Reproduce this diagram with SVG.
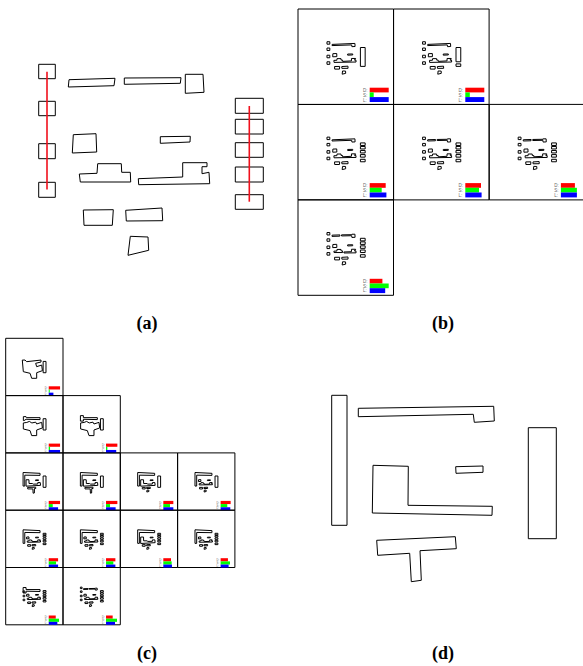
<svg xmlns="http://www.w3.org/2000/svg" width="583" height="666" viewBox="0 0 583 666">
<style>
.p{fill:none;stroke:#000;vector-effect:non-scaling-stroke}
.red{fill:#f00}.grn{fill:#0f0}.blu{fill:#00f}
.l{font-family:"Liberation Sans",Arial,sans-serif;font-size:4.5px;fill:#666}
.cap{font-family:"Liberation Serif","Times New Roman",serif;font-size:18px;font-weight:bold;fill:#000;text-anchor:middle}
.seg{stroke:#f0101c;stroke-width:1.6;fill:none}
.m .p{stroke-width:1.2}
.f{stroke-width:1}
</style>
<defs>
<rect id="s1" class="p" x="38.7" y="64.3" width="16.6" height="14.4"/>
<rect id="s2" class="p" x="38.7" y="101.3" width="16.6" height="14.4"/>
<rect id="s3" class="p" x="38.7" y="143.7" width="16.6" height="15"/>
<rect id="s4" class="p" x="38.7" y="182.3" width="16.6" height="15"/>
<rect id="r1" class="p" x="235.3" y="98.3" width="28" height="15"/>
<rect id="r2" class="p" x="235.3" y="119.3" width="28" height="14.7"/>
<rect id="r3" class="p" x="235.3" y="142.7" width="28" height="14.6"/>
<rect id="r4" class="p" x="235.3" y="167" width="28" height="15"/>
<rect id="r5" class="p" x="235.3" y="194.7" width="28" height="14.6"/>
<polygon id="A" class="p" points="69,79.7 115,78.3 114,85.7 68.3,87"/>
<polygon id="B" class="p" points="124.3,78 181,77.7 180.3,83.3 124.3,84.3"/>
<polygon id="C" class="p" points="185.3,74.3 203,74.3 204,92.3 185.3,93.3"/>
<polygon id="D" class="p" points="73.3,134.7 96,133.7 96.7,152 72.3,153"/>
<polygon id="E" class="p" points="160.3,136.7 190.3,136.3 190,142 160.3,143.3"/>
<polygon id="F" class="p" points="79.3,174 97,173.3 97.7,163.7 121.3,163.7 121.7,172.3 130.3,172.3 130.7,182 80.3,182"/>
<polygon id="G" class="p" points="138.3,178.7 182.7,177 182.7,162.7 207,162.7 207,166.7 202,166.7 202,173.7 209,172.3 209.7,183.7 138.7,184.7"/>
<polygon id="H" class="p" points="83.3,210 113.3,209.7 112.3,225.3 84,225.3"/>
<polygon id="I" class="p" points="125.7,210.3 162,208 162.7,220.7 126.3,221"/>
<polygon id="J" class="p" points="130.3,236.3 148,237 148.7,250.3 128,255.3"/>
<g id="L4"><use href="#s1"/><use href="#s2"/><use href="#s3"/><use href="#s4"/></g>
<g id="R5"><use href="#r1"/><use href="#r2"/><use href="#r3"/><use href="#r4"/><use href="#r5"/></g>
<g id="HIJ"><use href="#H"/><use href="#I"/><use href="#J"/></g>
<rect id="Rbig" class="p" x="235.3" y="98.3" width="28" height="111"/>
<rect id="Rshort" class="p" x="235.3" y="98.3" width="28" height="84"/>
<polygon id="TopM" class="p" points="69,80 203,74.3 204,92.3 185.3,93.3 184,83 68.5,87"/>
<polygon id="BC" class="p" points="124.3,78 185,77 185.3,74.3 203,74.3 204,92.3 185.3,93.3 184,83 124.3,84.3"/>
<polygon id="FG" class="p" points="79.3,174 97,173.3 97.7,163.7 121.3,163.7 121.7,172.3 130.3,172.3 131,180 182.7,177 182.7,162.7 207,162.7 207,166.7 202,166.7 202,173.7 209,172.3 209.7,183.7 80.3,186"/>
<polygon id="Blob" class="p" points="31,85 57.5,85 74,101 214.5,85 214.5,104 162,117 172,150 221,134 228,189 172,209 172,264 123,264 107,215 41,199"/>
<polygon id="Hammer" class="p" points="41.5,78 67.6,78 71,88 205,88 205,107 68,104 48,117 41.5,117"/>
<polygon id="Hammer2" class="p" points="39,68 68,68 68,88 205,88 205,107 68,104 68,122 39,122"/>
<polygon id="Blob2" class="p" points="41,140 75,135 100,125 125,140 162,132 172,150 221,134 228,189 172,209 172,264 123,264 107,215 41,199"/>
<polygon id="LeftTop" class="p" points="38.7,64 205,72 205,92 55.3,90 55.3,197 38.7,197"/>
<polygon id="Ltot" class="p" points="68,135 96,135 97,172 130,172 138,178 182.7,177 182.7,162.7 207,162.7 209.7,190 68,198"/>
<polygon id="Tee" class="p" points="83,210 162,208 163,221 150,221 149,265 137,267 135,225 84,225"/>
<g id="lb"><text class="l" x="65" y="83">D:</text><text class="l" x="65" y="87.8">S:</text><text class="l" x="65" y="92.6">L:</text></g>
<rect id="fr" class="p f" width="95.5" height="95.5"/>
</defs>
<g id="panel-a">
<g id="a-left1"><use href="#s1"/></g><g id="a-left2"><use href="#s2"/></g><g id="a-left3"><use href="#s3"/></g><g id="a-left4"><use href="#s4"/></g>
<g id="a-right1"><use href="#r1"/></g><g id="a-right2"><use href="#r2"/></g><g id="a-right3"><use href="#r3"/></g><g id="a-right4"><use href="#r4"/></g><g id="a-right5"><use href="#r5"/></g>
<g id="a-A"><use href="#A"/></g><g id="a-B"><use href="#B"/></g><g id="a-C"><use href="#C"/></g><g id="a-D"><use href="#D"/></g><g id="a-E"><use href="#E"/></g><g id="a-F"><use href="#F"/></g><g id="a-G"><use href="#G"/></g><g id="a-H"><use href="#H"/></g><g id="a-I"><use href="#I"/></g><g id="a-J"><use href="#J"/></g>
</g>
<g id="connectors">
<line class="seg" x1="47" y1="71.7" x2="47" y2="189.5"/>
<line class="seg" x1="249.3" y1="106" x2="249.3" y2="201.7"/>
</g>
<g id="panel-b">
<g id="b1" transform="translate(298,9)"><use href="#fr"/><g class="m" transform="translate(22.4,21.8) scale(.17)"><use href="#L4"/><use href="#TopM"/><use href="#D"/><use href="#E"/><use href="#FG"/><use href="#HIJ"/><use href="#Rbig"/></g><use href="#lb"/><rect class="red" x="71.7" y="78.7" width="19" height="4.7"/><rect class="grn" x="71.7" y="83.4" width="4" height="4.7"/><rect class="blu" x="71.7" y="88.1" width="19" height="4.9"/></g>
<g id="b2" transform="translate(393.6,9)"><use href="#fr"/><g class="m" transform="translate(22.4,21.8) scale(.17)"><use href="#L4"/><use href="#TopM"/><use href="#D"/><use href="#E"/><use href="#FG"/><use href="#HIJ"/><use href="#Rshort"/><use href="#r5"/></g><use href="#lb"/><rect class="red" x="71.7" y="78.7" width="19" height="4.7"/><rect class="grn" x="71.7" y="83.4" width="4.5" height="4.7"/><rect class="blu" x="71.7" y="88.1" width="19" height="4.9"/></g>
<g id="b3" transform="translate(298,104.4)"><use href="#fr"/><g class="m" transform="translate(22.4,21.8) scale(.17)"><use href="#L4"/><use href="#TopM"/><use href="#D"/><use href="#E"/><use href="#FG"/><use href="#HIJ"/><use href="#R5"/></g><use href="#lb"/><rect class="red" x="71.7" y="78.7" width="16" height="4.7"/><rect class="grn" x="71.7" y="83.4" width="12" height="4.7"/><rect class="blu" x="71.7" y="88.1" width="16.7" height="4.9"/></g>
<g id="b4" transform="translate(393.6,104.4)"><use href="#fr"/><g class="m" transform="translate(22.4,21.8) scale(.17)"><use href="#L4"/><use href="#A"/><use href="#BC"/><use href="#D"/><use href="#E"/><use href="#FG"/><use href="#HIJ"/><use href="#R5"/></g><use href="#lb"/><rect class="red" x="71.7" y="78.7" width="15.7" height="4.7"/><rect class="grn" x="71.7" y="83.4" width="13.7" height="4.7"/><rect class="blu" x="71.7" y="88.1" width="16.3" height="4.9"/></g>
<g id="b5" transform="translate(489.2,104.4)"><use href="#fr"/><g class="m" transform="translate(22.4,21.8) scale(.17)"><use href="#L4"/><use href="#A"/><use href="#BC"/><use href="#D"/><use href="#E"/><use href="#FG"/><use href="#HIJ"/><use href="#R5"/></g><use href="#lb"/><rect class="red" x="71.7" y="78.7" width="14" height="4.7"/><rect class="grn" x="71.7" y="83.4" width="16" height="4.7"/><rect class="blu" x="71.7" y="88.1" width="16" height="4.9"/></g>
<g id="b6" transform="translate(298,199.8)"><use href="#fr"/><g class="m" transform="translate(22.4,21.8) scale(.17)"><use href="#L4"/><use href="#A"/><use href="#BC"/><use href="#D"/><use href="#E"/><use href="#F"/><use href="#G"/><use href="#HIJ"/><use href="#R5"/></g><use href="#lb"/><rect class="red" x="71.7" y="79" width="12.7" height="4.7"/><rect class="grn" x="71.7" y="83.7" width="19" height="4.7"/><rect class="blu" x="71.7" y="88.4" width="15.5" height="4.9"/></g>
</g>
<g id="panel-c">
<g id="c1" transform="translate(5.7,338.3) scale(.6)"><use href="#fr"/><g class="m" transform="translate(22.4,21.8) scale(.17)"><use href="#Blob"/><use href="#Rbig"/></g><use href="#lb" y="1.6"/><rect class="red" x="71.7" y="80" width="18.9" height="5.3"/><rect class="grn" x="71.7" y="85.3" width="1.7" height="5.3"/><rect class="blu" x="71.7" y="90.6" width="7.8" height="4.9"/></g>
<g id="c2" transform="translate(5.7,395.6) scale(.6)"><use href="#fr"/><g class="m" transform="translate(22.4,21.8) scale(.17)"><use href="#Hammer"/><use href="#Blob2"/><use href="#Rbig"/></g><use href="#lb" y="1.6"/><rect class="red" x="71.7" y="80" width="18.9" height="5.3"/><rect class="grn" x="71.7" y="85.3" width="2.2" height="5.3"/><rect class="blu" x="71.7" y="90.6" width="18.9" height="4.9"/></g>
<g id="c3" transform="translate(63,395.6) scale(.6)"><use href="#fr"/><g class="m" transform="translate(22.4,21.8) scale(.17)"><use href="#Hammer2"/><use href="#Blob2"/><use href="#Rbig"/></g><use href="#lb" y="1.6"/><rect class="red" x="71.7" y="80" width="18.9" height="5.3"/><rect class="grn" x="71.7" y="85.3" width="2.2" height="5.3"/><rect class="blu" x="71.7" y="90.6" width="17" height="4.9"/></g>
<g id="c4" transform="translate(5.7,452.9) scale(.6)"><use href="#fr"/><g class="m" transform="translate(22.4,21.8) scale(.17)"><use href="#LeftTop"/><use href="#Ltot"/><use href="#E"/><use href="#Tee"/><use href="#Rbig"/></g><use href="#lb" y="1.6"/><rect class="red" x="71.7" y="80" width="18.9" height="5.3"/><rect class="grn" x="71.7" y="85.3" width="6.7" height="5.3"/><rect class="blu" x="71.7" y="90.6" width="15.6" height="4.9"/></g>
<g id="c5" transform="translate(63,452.9) scale(.6)"><use href="#fr"/><g class="m" transform="translate(22.4,21.8) scale(.17)"><use href="#LeftTop"/><use href="#Ltot"/><use href="#E"/><use href="#Tee"/><use href="#Rbig"/></g><use href="#lb" y="1.6"/><rect class="red" x="71.7" y="80" width="18.9" height="5.3"/><rect class="grn" x="71.7" y="85.3" width="6.7" height="5.3"/><rect class="blu" x="71.7" y="90.6" width="16" height="4.9"/></g>
<g id="c6" transform="translate(120.3,452.9) scale(.6)"><use href="#fr"/><g class="m" transform="translate(22.4,21.8) scale(.17)"><use href="#LeftTop"/><use href="#Ltot"/><use href="#E"/><use href="#HIJ"/><use href="#Rbig"/></g><use href="#lb" y="1.6"/><rect class="red" x="71.7" y="80" width="16.7" height="5.3"/><rect class="grn" x="71.7" y="85.3" width="11.1" height="5.3"/><rect class="blu" x="71.7" y="90.6" width="16.7" height="4.9"/></g>
<g id="c7" transform="translate(177.6,452.9) scale(.6)"><use href="#fr"/><g class="m" transform="translate(22.4,21.8) scale(.17)"><use href="#LeftTop"/><use href="#D"/><use href="#FG"/><use href="#E"/><use href="#HIJ"/><use href="#Rbig"/></g><use href="#lb" y="1.6"/><rect class="red" x="71.7" y="80" width="16.7" height="5.3"/><rect class="grn" x="71.7" y="85.3" width="11.1" height="5.3"/><rect class="blu" x="71.7" y="90.6" width="16.1" height="4.9"/></g>
<g id="c8" transform="translate(5.7,510.2) scale(.6)"><use href="#fr"/><g class="m" transform="translate(22.4,21.8) scale(.17)"><use href="#LeftTop"/><use href="#D"/><use href="#FG"/><use href="#E"/><use href="#HIJ"/><use href="#R5"/></g><use href="#lb" y="1.6"/><rect class="red" x="71.7" y="80" width="15.6" height="5.3"/><rect class="grn" x="71.7" y="85.3" width="12.2" height="5.3"/><rect class="blu" x="71.7" y="90.6" width="15.6" height="4.9"/></g>
<g id="c9" transform="translate(63,510.2) scale(.6)"><use href="#fr"/><g class="m" transform="translate(22.4,21.8) scale(.17)"><use href="#LeftTop"/><use href="#D"/><use href="#FG"/><use href="#E"/><use href="#HIJ"/><use href="#R5"/></g><use href="#lb" y="1.6"/><rect class="red" x="71.7" y="80" width="15.6" height="5.3"/><rect class="grn" x="71.7" y="85.3" width="12.2" height="5.3"/><rect class="blu" x="71.7" y="90.6" width="15.6" height="4.9"/></g>
<g id="c10" transform="translate(120.3,510.2) scale(.6)"><use href="#fr"/><g class="m" transform="translate(22.4,21.8) scale(.17)"><use href="#LeftTop"/><use href="#Ltot"/><use href="#E"/><use href="#HIJ"/><use href="#R5"/></g><use href="#lb" y="1.6"/><rect class="red" x="71.7" y="80" width="12.8" height="5.3"/><rect class="grn" x="71.7" y="85.3" width="13.9" height="5.3"/><rect class="blu" x="71.7" y="90.6" width="14.4" height="4.9"/></g>
<g id="c11" transform="translate(177.6,510.2) scale(.6)"><use href="#fr"/><g class="m" transform="translate(22.4,21.8) scale(.17)"><use href="#LeftTop"/><use href="#D"/><use href="#FG"/><use href="#E"/><use href="#HIJ"/><use href="#R5"/></g><use href="#lb" y="1.6"/><rect class="red" x="71.7" y="80" width="12.2" height="5.3"/><rect class="grn" x="71.7" y="85.3" width="15.6" height="5.3"/><rect class="blu" x="71.7" y="90.6" width="13.3" height="4.9"/></g>
<g id="c12" transform="translate(5.7,567.5) scale(.6)"><use href="#fr"/><g class="m" transform="translate(22.4,21.8) scale(.17)"><use href="#Hammer2"/><use href="#s2"/><use href="#s3"/><use href="#s4"/><use href="#D"/><use href="#FG"/><use href="#E"/><use href="#HIJ"/><use href="#R5"/></g><use href="#lb" y="1.6"/><rect class="red" x="71.7" y="80" width="11.7" height="5.3"/><rect class="grn" x="71.7" y="85.3" width="17.2" height="5.3"/><rect class="blu" x="71.7" y="90.6" width="14.4" height="4.9"/></g>
<g id="c13" transform="translate(63,567.5) scale(.6)"><use href="#fr"/><g class="m" transform="translate(22.4,21.8) scale(.17)"><use href="#L4"/><use href="#A"/><use href="#BC"/><use href="#D"/><use href="#FG"/><use href="#E"/><use href="#HIJ"/><use href="#R5"/></g><use href="#lb" y="1.6"/><rect class="red" x="71.7" y="80" width="11.1" height="5.3"/><rect class="grn" x="71.7" y="85.3" width="18.3" height="5.3"/><rect class="blu" x="71.7" y="90.6" width="15" height="4.9"/></g>
</g>
<g id="panel-d">
<g id="d-left"><rect class="p" x="331.7" y="395.3" width="15.3" height="130"/></g>
<g id="d-top"><polygon class="p" points="358.3,408.3 493.7,406.3 494.3,421 474.3,422.3 473.3,414.3 358.3,416.7"/></g>
<g id="d-ell"><polygon class="p" points="373,465.3 408.3,466.3 408,505.3 492.3,506.3 492,515.3 372.3,513"/></g>
<g id="d-small"><polygon class="p" points="455.7,466.7 483,466 483,472.3 456,473.3"/></g>
<g id="d-right"><rect class="p" x="528.3" y="427.7" width="28" height="111"/></g>
<g id="d-tee"><polygon class="p" points="376.7,540.3 455.3,536.7 456.3,548.7 420,550.7 421.3,580.3 411.3,581.7 409.7,553.3 377.7,555.3"/></g>
</g>
<text class="cap" x="147" y="329">(a)</text>
<text class="cap" x="443" y="329">(b)</text>
<text class="cap" x="147" y="659">(c)</text>
<text class="cap" x="443" y="659">(d)</text>
</svg>
